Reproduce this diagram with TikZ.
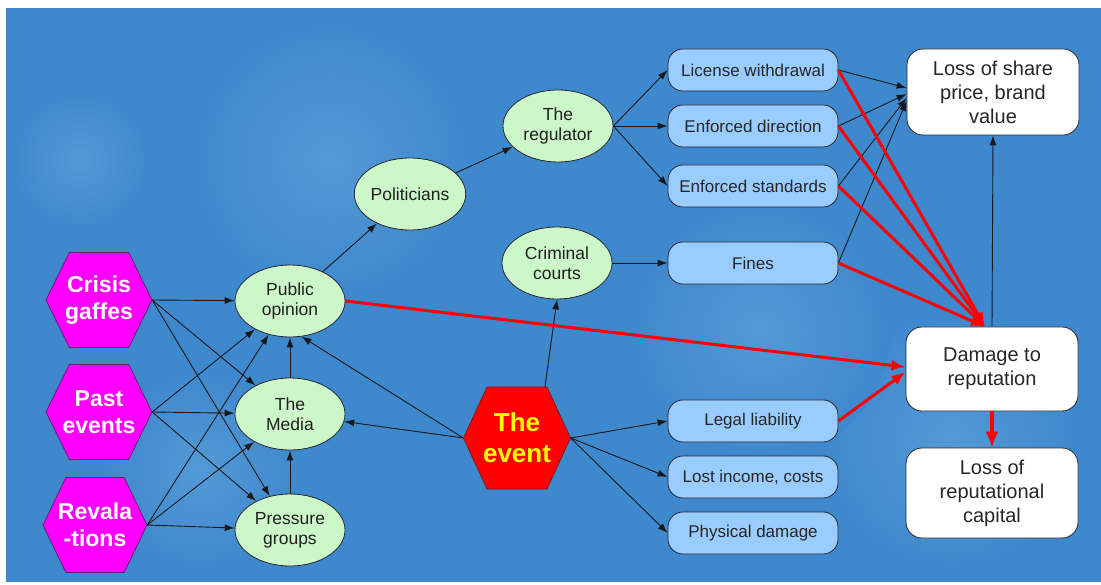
\documentclass[tikz,border=0pt]{standalone}
\usepackage{fontspec}
\setmainfont{Liberation Sans}
\usetikzlibrary{arrows.meta,shapes.geometric,calc}

\definecolor{sky}{RGB}{62,136,205}
\definecolor{skylight}{RGB}{84,153,214}
\definecolor{leaf}{RGB}{204,247,200}
\definecolor{pill}{RGB}{153,204,255}
\definecolor{edge}{RGB}{40,40,50}
\definecolor{hot}{RGB}{255,0,0}
\definecolor{mag}{RGB}{255,0,255}
\definecolor{sun}{RGB}{255,255,0}

% hexagon: name, x, y, width, height, shape style, text style, text
\newcommand{\hexnode}[8]{%
  \filldraw[#6] ({#2-#4/2},#3) -- ({#2-#4/2+0.22*#4},{#3-#5/2})
    -- ({#2+#4/2-0.22*#4},{#3-#5/2}) -- ({#2+#4/2},#3)
    -- ({#2+#4/2-0.22*#4},{#3+#5/2}) -- ({#2-#4/2+0.22*#4},{#3+#5/2}) -- cycle;
  \node[#7, minimum width=#4pt, minimum height=#5pt] (#1) at (#2,#3) {#8};
}

\tikzset{
  oval/.style={ellipse, draw=edge, line width=0.8pt, fill=leaf,
    minimum width=110pt, minimum height=72pt, inner sep=0pt, align=center,
    text=black!88, font=\fontsize{17.5pt}{20pt}\selectfont},
  pillbox/.style={rectangle, rounded corners=15pt, draw=edge, line width=0.8pt,
    fill=pill, minimum width=170pt, minimum height=42pt, inner sep=0pt,
    text=black!85, font=\fontsize{17pt}{20pt}\selectfont},
  whitebox/.style={rectangle, rounded corners=16pt, draw=edge, line width=0.8pt,
    fill=white, minimum width=172pt, inner sep=0pt, align=center,
    text=black!85, font=\fontsize{20pt}{24pt}\selectfont},
  magshape/.style={fill=mag, draw=edge!70!mag, line width=0.8pt},
  redshape/.style={fill=hot, draw=edge!60!hot, line width=0.8pt},
  magtext/.style={rectangle, inner sep=0pt, align=center, text=white,
    font=\fontsize{23pt}{27pt}\selectfont\bfseries},
  redtext/.style={rectangle, inner sep=0pt, align=center, text=sun,
    font=\fontsize{26pt}{31pt}\selectfont\bfseries},
  ar/.style={draw=black!90, line width=0.9pt, -{Latex[length=10pt,width=7pt]}},
  redar/.style={draw=hot, line width=3pt, -{Latex[length=14pt,width=11pt]}},
  bigredar/.style={draw=hot, line width=3.5pt, -{Latex[length=16pt,width=13pt]}},
}

\begin{document}
\begin{tikzpicture}[x=1pt, y=-1pt]
\useasboundingbox (0,0) rectangle (1101,585);
\fill[white] (0,0) rectangle (1101,585);

% sky backdrop with soft cloud patches (each patch kept inside the sky)
\fill[sky] (6,8) rectangle (1101,582);
\shade[inner color=skylight, outer color=sky] (330,160) circle (140pt);
\shade[inner color=skylight, outer color=sky] (950,440) circle (130pt);
\shade[inner color=skylight, outer color=sky] (200,470) circle (100pt);
\shade[inner color=skylight, outer color=sky] (760,330) circle (130pt);
\shade[inner color=skylight, outer color=sky] (80,160) circle (70pt);

% sources
\hexnode{cg}{99}{300}{106}{95}{magshape}{magtext}{Crisis\\gaffes}
\hexnode{pe}{99}{412}{106}{95}{magshape}{magtext}{Past\\events}
\hexnode{rv}{95}{525}{104}{95}{magshape}{magtext}{Revala\\-tions}
\hexnode{ev}{517}{438}{107}{102}{redshape}{redtext}{The\\event}

% actors
\node[oval] (po)  at (290,301) {Public\\opinion};
\node[oval] (me)  at (290,414) {The\\Media};
\node[oval] (pg)  at (290,530) {Pressure\\groups};
\node[oval] (pol) at (410,194) {Politicians};
\node[oval] (reg) at (558,126) {The\\regulator};
\node[oval] (cc)  at (557,263) {Criminal\\courts};

% consequences
\node[pillbox] (lw) at (753,70)  {License withdrawal};
\node[pillbox] (ed) at (753,126) {Enforced direction};
\node[pillbox] (es) at (753,186) {Enforced standards};
\node[pillbox] (fi) at (753,263) {Fines};
\node[pillbox] (ll) at (753,421) {Legal liability};
\node[pillbox] (li) at (753,477) {Lost income, costs};
\node[pillbox] (ph) at (753,533) {Physical damage};

% outcomes
\node[whitebox, minimum height=86pt] (ls) at (993,92)  {Loss of share\\price, brand\\value};
\node[whitebox, minimum height=84pt] (dr) at (992,369) {Damage to\\reputation};
\node[whitebox, minimum height=90pt] (lr) at (992,493) {Loss of\\reputational\\capital};

% influences on the public
\foreach \s in {cg,pe,rv}
  \foreach \t in {po,me,pg}
    \draw[ar] (\s.east) -- (\t);
\draw[ar] (me) -- (po);
\draw[ar] (pg) -- (me);
\draw[ar] (ev.west) -- (me);
\draw[ar] (ev.west) -- (po.-72);
\draw[ar] (po) -- (pol);
\draw[ar] (pol) -- (reg);

% regulatory and legal paths
\draw[ar] (reg.east) -- (lw.west);
\draw[ar] (reg.east) -- (ed.west);
\draw[ar] (reg.east) -- (es.west);
\draw[ar] (cc.east) -- (fi.west);
\draw[ar] ([xshift=28pt]ev.north) -- (cc.south);
\draw[ar] (ev.east) -- (ll.west);
\draw[ar] (ev.east) -- (li.west);
\draw[ar] (ev.east) -- (ph.west);

% market value
\draw[ar] (lw.east) -- ([yshift=4pt]ls.west);
\draw[ar] (ed.east) -- ([yshift=-2pt]ls.west);
\draw[ar] (es.east) -- ([yshift=-6pt]ls.west);
\draw[ar] (fi.east) -- ([yshift=-9pt]ls.west);
\draw[ar] (dr.north) -- (ls.south);

% reputational damage
\draw[redar] (lw.east) -- ([xshift=-7pt]dr.north);
\draw[redar] (ed.east) -- ([xshift=-7pt]dr.north);
\draw[redar] (es.east) -- ([xshift=-7pt]dr.north);
\draw[redar] (fi.east) -- ([xshift=-7pt]dr.north);
\draw[redar] (po.east) -- ([yshift=2pt]dr.west);
\draw[redar] (ll.east) -- ([yshift=-3pt]dr.west);
\draw[bigredar] (dr) -- (lr);
\end{tikzpicture}
\end{document}
